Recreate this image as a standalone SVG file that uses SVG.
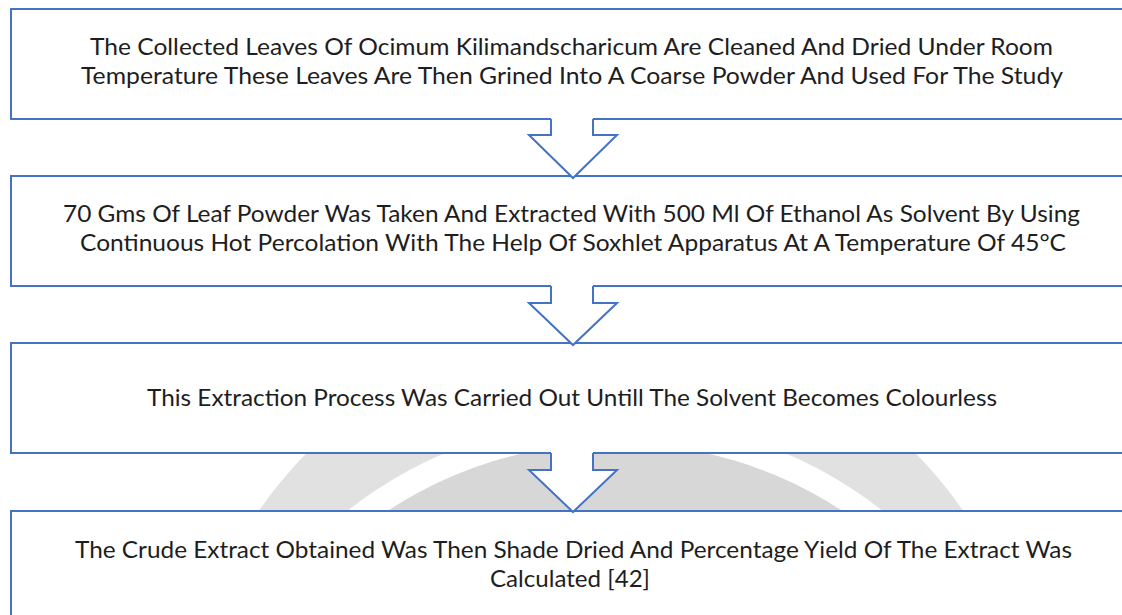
<svg xmlns="http://www.w3.org/2000/svg" width="1122" height="615" viewBox="0 0 1122 615">
<style>
.box{fill:#ffffff;stroke:#4472C4;stroke-width:2}
.af{fill:#ffffff;stroke:none}
.as{fill:none;stroke:#4472C4;stroke-width:2;stroke-linejoin:miter}
.t{font-family:Lato,"Open Sans","Liberation Sans",sans-serif;font-size:23px;fill:#1e1e1e;text-anchor:middle}
</style>
<defs>
<clipPath id="gap"><rect x="0" y="440" width="1122" height="80"/></clipPath>
</defs>
<rect x="0" y="0" width="1122" height="615" fill="#ffffff"/>
<g id="watermark" clip-path="url(#gap)">
<circle cx="611" cy="754" r="428" fill="#e1e1e1"/>
<circle cx="615" cy="850" r="432" fill="#ffffff"/>
<circle cx="615" cy="858" r="415" fill="#d7d7d7"/>
</g>
<g id="node1">
<rect class="box" x="11" y="9" width="1124" height="110"/>
<text class="t" x="571.5" y="55" textLength="963" lengthAdjust="spacingAndGlyphs">The Collected Leaves Of Ocimum Kilimandscharicum Are Cleaned And Dried Under Room</text>
<text class="t" x="572" y="84" textLength="982" lengthAdjust="spacingAndGlyphs">Temperature These Leaves Are Then Grined Into A Coarse Powder And Used For The Study</text>
</g>
<g id="node2">
<rect class="box" x="11" y="176" width="1124" height="110"/>
<text class="t" x="571.5" y="222" textLength="1017" lengthAdjust="spacingAndGlyphs">70 Gms Of Leaf Powder Was Taken And Extracted With 500 Ml Of Ethanol As Solvent By Using</text>
<text class="t" x="573" y="251" textLength="986" lengthAdjust="spacingAndGlyphs">Continuous Hot Percolation With The Help Of Soxhlet Apparatus At A Temperature Of 45°C</text>
</g>
<g id="node3">
<rect class="box" x="11" y="343" width="1124" height="110"/>
<text class="t" x="572" y="406" textLength="850" lengthAdjust="spacingAndGlyphs">This Extraction Process Was Carried Out Untill The Solvent Becomes Colourless</text>
</g>
<g id="node4">
<rect class="box" x="11" y="511" width="1124" height="110"/>
<text class="t" x="573.5" y="558" textLength="997" lengthAdjust="spacingAndGlyphs">The Crude Extract Obtained Was Then Shade Dried And Percentage Yield Of The Extract Was</text>
<text class="t" x="570" y="587" textLength="160" lengthAdjust="spacingAndGlyphs">Calculated [42]</text>
</g>
<g id="connectors">
<g id="arrow1">
<polygon class="af" points="551,117 593,117 593,135 617,135 573,178 529,135 551,135"/>
<polyline class="as" points="551,119 551,135 529,135 573,178 617,135 593,135 593,119"/>
</g>
<g id="arrow2">
<polygon class="af" points="551,284 593,284 593,303 617,303 573,345 529,303 551,303"/>
<polyline class="as" points="551,286 551,303 529,303 573,345 617,303 593,303 593,286"/>
</g>
<g id="arrow3">
<polygon class="af" points="551,451 593,451 593,470 617,470 573,512 529,470 551,470"/>
<polyline class="as" points="551,453 551,470 529,470 573,512 617,470 593,470 593,453"/>
</g>
</g>
</svg>
